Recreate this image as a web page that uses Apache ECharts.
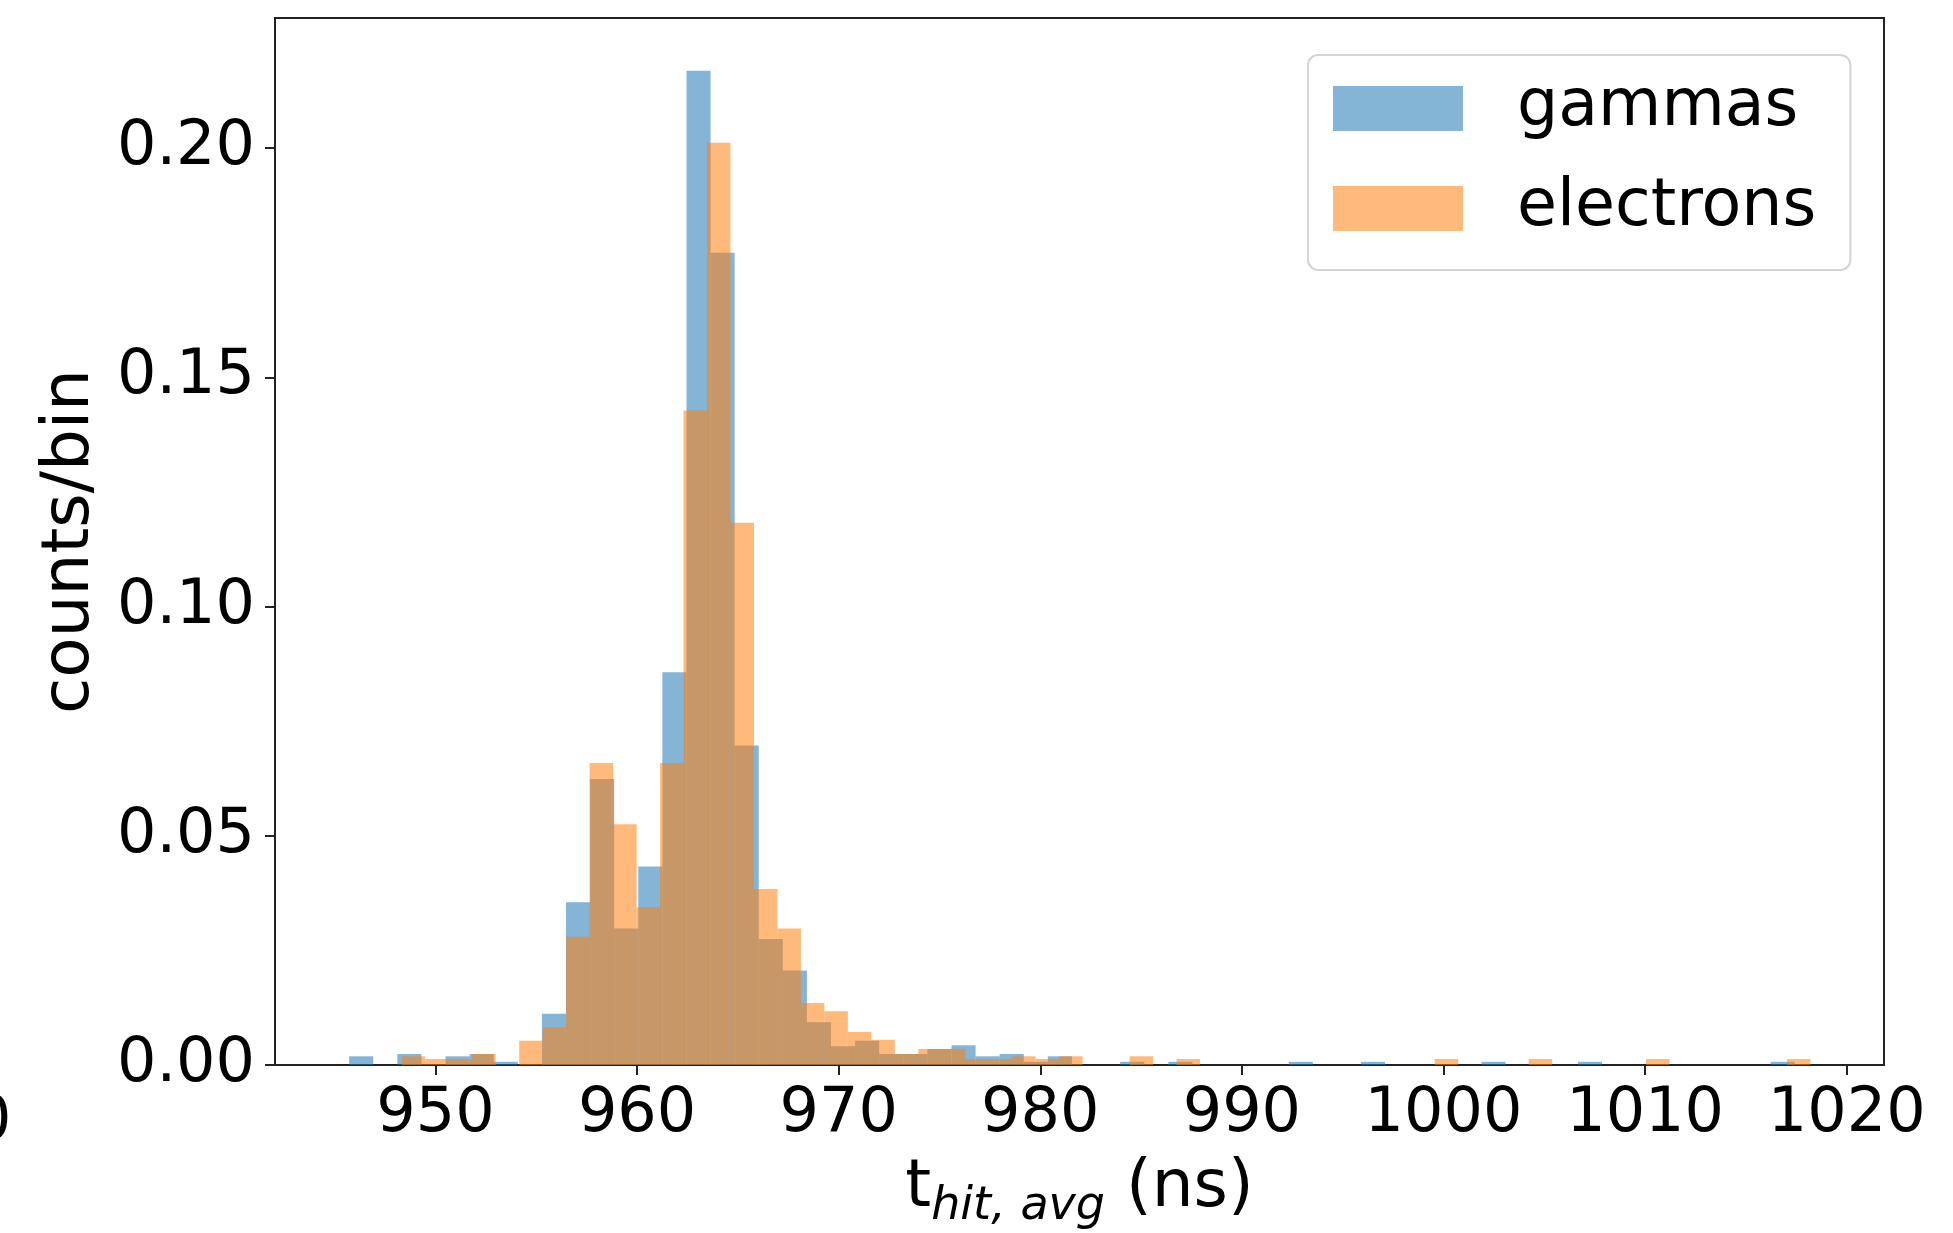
<!DOCTYPE html>
<html>
<head>
<meta charset="utf-8">
<script src="https://cdn.jsdelivr.net/npm/echarts@6/dist/echarts.min.js"></script>
<style>
html,body{margin:0;padding:0;background:#fff;}
#chart{width:1953px;height:1233px;}
</style>
</head>
<body>
<div id="chart"></div>
<script>
// ---- data ----
const seriesNames = ['gammas', 'electrons'];
// histogram binning (60 bins each, own range)
const gammaBinStart = 945.72, gammaBinWidth = 1.195;
const electronBinStart = 948.33, electronBinWidth = 1.1645;
const gammaCounts = [
  0.0019, 0, 0.0024, 0, 0.0019, 0.0024, 0.0007, 0, 0.0112, 0.0355,
  0.0624, 0.0298, 0.0433, 0.0857, 0.2169, 0.1772, 0.0697, 0.0275, 0.0206, 0.0093,
  0.0041, 0.0053, 0.0024, 0.0024, 0.0035, 0.0043, 0.0019, 0.0024, 0.0007, 0.0019,
  0, 0, 0.0007, 0, 0.0007, 0, 0, 0, 0, 0.0007,
  0, 0, 0.0007, 0, 0, 0, 0, 0.0007, 0, 0,
  0, 0.0007, 0, 0, 0, 0, 0, 0, 0, 0.0007
];
const electronCounts = [
  0.0019, 0.0013, 0.0013, 0.0024, 0, 0.0053, 0.0082, 0.0280, 0.0659, 0.0525,
  0.0344, 0.0659, 0.1428, 0.2012, 0.1183, 0.0384, 0.0298, 0.0135, 0.0117, 0.0072,
  0.0055, 0.0024, 0.0035, 0.0035, 0.0013, 0.0013, 0.0019, 0.0013, 0.0019, 0,
  0, 0.0019, 0, 0.0013, 0, 0, 0, 0, 0, 0,
  0, 0, 0, 0, 0.0013, 0, 0, 0, 0.0013, 0,
  0, 0, 0, 0.0013, 0, 0, 0, 0, 0, 0.0013
];
const xTicks = [950, 960, 970, 980, 990, 1000, 1010, 1020];
const yTicks = [0, 0.05, 0.10, 0.15, 0.20];
const xRange = [942.04, 1021.85];
const yRange = [0, 0.2284];

function histData(start, width, counts) {
  return counts.map((v, k) => [start + k * width, start + (k + 1) * width, v]);
}

const FONT = 'DejaVu Sans';
const chart = echarts.init(document.getElementById('chart'), null, {renderer: 'canvas'});

function renderBar(params, api) {
  const x0 = api.value(0), x1 = api.value(1), v = api.value(2);
  if (!v) return null;
  const p0 = api.coord([x0, v]);
  const p1 = api.coord([x1, 0]);
  return {
    type: 'rect',
    shape: {x: p0[0], y: p0[1], width: p1[0] - p0[0], height: p1[1] - p0[1]},
    style: {fill: api.visual('color')}
  };
}

const option = {
  animation: false,
  backgroundColor: '#ffffff',
  grid: {
    left: 275, right: 69, top: 18, bottom: 168,
    outerBoundsMode: 'none',
    containLabel: false,
    show: true, borderColor: '#222', borderWidth: 2, backgroundColor: 'transparent'
  },
  legend: {
    orient: 'vertical',
    left: 1308, top: 55,
    padding: [16, 34, 24, 25],
    itemWidth: 130, itemHeight: 45, itemGap: 25,
    icon: 'rect',
    borderColor: '#d4d4d4', borderWidth: 2, borderRadius: 10,
    backgroundColor: 'rgba(255,255,255,0.8)',
    textStyle: {fontFamily: FONT, fontSize: 65, color: '#000', lineHeight: 61, padding: [14, 0, 0, 49]},
    data: seriesNames
  },
  xAxis: {
    type: 'value',
    min: xRange[0], max: xRange[1],
    name: '{t|t}{s|hit, avg}{n| (ns)}',
    nameLocation: 'middle',
    nameGap: 83,
    nameTextStyle: {
      rich: {
        t: {fontFamily: FONT, fontSize: 66, color: '#000', lineHeight: 82, verticalAlign: 'middle'},
        s: {fontFamily: FONT, fontSize: 46, fontStyle: 'italic', color: '#000', lineHeight: 46, verticalAlign: 'bottom'},
        n: {fontFamily: FONT, fontSize: 66, color: '#000', lineHeight: 82, verticalAlign: 'middle'}
      }
    },
    splitLine: {show: false},
    axisLine: {show: true, onZero: false, lineStyle: {color: '#222', width: 2}},
    axisTick: {show: true, customValues: xTicks, length: 10, lineStyle: {color: '#222', width: 2}},
    axisLabel: {show: true, customValues: xTicks, margin: 19, fontFamily: FONT, fontSize: 62, color: '#000',
      formatter: v => String(Math.round(v))}
  },
  yAxis: {
    type: 'value',
    min: yRange[0], max: yRange[1],
    name: 'counts/bin',
    nameLocation: 'middle',
    nameGap: 171,
    nameTextStyle: {fontFamily: FONT, fontSize: 66, color: '#000'},
    splitLine: {show: false},
    axisLine: {show: true, lineStyle: {color: '#222', width: 2}},
    axisTick: {show: true, customValues: yTicks, length: 10, lineStyle: {color: '#222', width: 2}},
    axisLabel: {show: true, customValues: yTicks, margin: 20, fontFamily: FONT, fontSize: 62, color: '#000',
      formatter: v => v.toFixed(2)}
  },
  series: [
    {
      name: seriesNames[0], type: 'custom', renderItem: renderBar,
      itemStyle: {color: 'rgba(31,119,180,0.55)'},
      encode: {x: [0, 1], y: 2},
      data: histData(gammaBinStart, gammaBinWidth, gammaCounts)
    },
    {
      name: seriesNames[1], type: 'custom', renderItem: renderBar,
      itemStyle: {color: 'rgba(255,127,14,0.55)'},
      encode: {x: [0, 1], y: 2},
      data: histData(electronBinStart, electronBinWidth, electronCounts)
    }
  ],
  graphic: [
    {type: 'text', left: -28, top: 1092, style: {text: '0', fontFamily: FONT, fontSize: 62, fill: '#000'}}
  ]
};
chart.setOption(option);
</script>
</body>
</html>
